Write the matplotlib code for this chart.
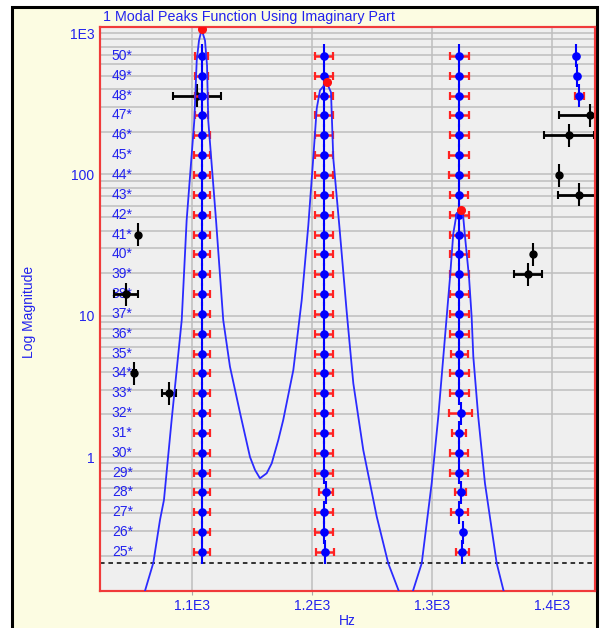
import numpy as np
import matplotlib.pyplot as plt
from matplotlib.patches import Rectangle
from matplotlib.ticker import NullFormatter, LogLocator

plt.rcParams['font.family'] = ['Liberation Sans', 'DejaVu Sans']

# magnitude function (Hz, magnitude)
curve_hz = [1055.0, 1061.1, 1068.0, 1073.6, 1076.9, 1083.3, 1091.7, 1095.8, 1102.2,
            1104.2, 1106.1, 1108.3, 1111.1, 1112.8, 1113.8, 1120.3, 1126.3, 1131.9,
            1140.3, 1148.6, 1152.8, 1156.9, 1162.5, 1166.7, 1172.2, 1176.3, 1184.7,
            1191.7, 1197.2, 1201.3, 1204.2, 1206.9, 1212.5, 1216.1, 1218.0, 1223.0,
            1229.2, 1234.7, 1243.0, 1254.2, 1263.8, 1272.2, 1278.5, 1284.7, 1291.7,
            1300.0, 1305.5, 1309.7, 1312.5, 1315.3, 1318.0, 1320.8, 1324.2, 1326.3,
            1327.8, 1331.1, 1333.3, 1334.7, 1338.8, 1344.4, 1354.2, 1359.7, 1365.0]
curve_mag = [0.09, 0.113, 0.178, 0.359, 0.497, 1.83, 9.30, 47.3, 241,
             639, 885, 1059, 885, 589, 241, 47.3, 9.30, 4.36,
             2.05, 1.00, 0.809, 0.707, 0.767, 0.902, 1.32, 1.83, 4.12,
             12.9, 43.6, 130, 292, 393, 447, 380, 130, 43.6,
             10.6, 3.32, 1.12, 0.379, 0.177, 0.115, 0.08, 0.115, 0.177,
             0.652, 1.93, 5.12, 9.81, 18.8, 38.1, 52.7, 56.3, 49.9,
             36.1, 18.8, 9.81, 5.12, 1.93, 0.652, 0.177, 0.115, 0.08]

# peaks picked on the function
peak_hz = [1108.3, 1212.5, 1324.2]
peak_mag = [1059, 447, 56.3]

threshold = 0.178

# model orders (rows of the stability diagram)
orders = [25, 26, 27, 28, 29, 30, 31, 32, 33, 34, 35, 36, 37,
          38, 39, 40, 41, 42, 43, 44, 45, 46, 47, 48, 49, 50]

# stable poles, orders 25..50 (0 = no frequency error bar)
mode1_hz = [1108.5, 1108.5, 1108.5, 1108.5, 1108.5, 1108.5, 1108.5, 1108.5, 1108.5,
            1108.5, 1108.5, 1108.5, 1108.5, 1108.5, 1108.5, 1108.5, 1108.5, 1108.5,
            1108.5, 1108.5, 1108.5, 1108.5, 1108.2, 1108.2, 1108.2, 1108.2]
mode1_err = [6.4, 6.4, 6.4, 6.4, 6.4, 6.4, 6.4, 6.4, 6.4, 6.4, 6.4, 6.4, 6.4,
             6.4, 6.4, 6.4, 6.4, 6.4, 6.4, 6.4, 6.4, 6.4, 5.6, 5.6, 5.6, 5.6]

mode2_hz = [1211.0, 1210.3, 1210.3, 1211.7, 1210.3, 1210.3, 1210.3, 1210.3, 1210.3,
            1210.3, 1210.3, 1210.3, 1210.3, 1210.3, 1210.3, 1210.3, 1210.3, 1210.3,
            1210.3, 1210.3, 1210.3, 1210.3, 1210.3, 1210.3, 1210.3, 1210.3]
mode2_err = [7.5, 7.8, 7.8, 6.0, 7.8, 7.8, 7.8, 7.8, 7.8, 7.8, 7.8, 7.8, 7.8,
             7.8, 7.8, 7.8, 7.8, 7.8, 7.8, 7.8, 7.8, 7.8, 7.8, 7.8, 7.8, 7.8]

mode3_hz = [1325.5, 1326.5, 1323.0, 1324.2, 1323.0, 1323.0, 1323.0, 1324.2, 1323.0,
            1323.0, 1323.0, 1323.0, 1323.0, 1323.0, 1323.0, 1323.0, 1323.0, 1323.0,
            1323.0, 1323.0, 1323.0, 1323.0, 1323.0, 1323.0, 1323.0, 1323.0]
mode3_err = [5.3, 0, 7.2, 4.7, 7.4, 7.4, 5.8, 9.4, 7.8, 7.8, 7.0, 8.0, 7.8,
             7.8, 7.8, 7.8, 7.8, 7.8, 7.4, 8.3, 8.3, 7.9, 7.9, 7.9, 7.9, 7.9]

mode4_orders = [48, 49, 50]
mode4_hz = [1423.0, 1421.3, 1420.0]
mode4_err = [3.75, 0, 0]

# unstable poles
other_orders = [48, 47, 46, 44, 43, 41, 40, 39, 38, 34, 33]
other_hz = [1104.2, 1431.9, 1414.4, 1406.3, 1422.7, 1055.0, 1384.7, 1380.0, 1045.0, 1052.2, 1081.1]
other_err = [20.0, 25.8, 20.6, 0, 17.5, 0, 0, 11.7, 10.0, 1.5, 6.0]

order_err = 0.58

blue = '#0000FF'
txt_blue = '#2222EE'
red = '#FF2222'

fig = plt.figure(figsize=(6, 6.28), dpi=100, facecolor='white')
fig.patches.append(Rectangle((12 / 600, -0.02), 585 / 600, 1.02 - 7 / 628,
                             transform=fig.transFigure, facecolor='#FCFCE2',
                             edgecolor='black', lw=2.2, zorder=-5))

ax = fig.add_axes([100 / 600, 37 / 628, 495 / 600, 564 / 628])
ax.set_facecolor('#EFEFEF')
ax.set_yscale('log')
ax.set_xlim(1023.6, 1436.1)
ax.set_ylim(0.1127, 1103)
ax.yaxis.set_minor_locator(LogLocator(base=10, subs=range(2, 10), numticks=20))
ax.yaxis.set_minor_formatter(NullFormatter())
ax.set_yticks([1, 10, 100, 1000], ['1', '10', '100', '1E3'])
ax.set_xticks([1100, 1200, 1300, 1400], ['1.1E3', '1.2E3', '1.3E3', '1.4E3'])
ax.grid(True, which='both', axis='y', color='#BEBEBE', lw=1.1)
ax.grid(True, which='major', axis='x', color='#BEBEBE', lw=1.1)
ax.set_axisbelow(True)
ax.tick_params(axis='y', which='both', length=0, pad=4, labelsize=10, labelcolor=txt_blue)
ax.tick_params(axis='x', which='major', length=3, color='#AAAAAA', pad=3,
               labelsize=10, labelcolor=txt_blue)
ax.tick_params(axis='x', which='minor', length=0)
ax.axhline(threshold, color='black', ls=(0, (3, 2.5)), lw=1.1, zorder=1)

# rows of the stability diagram on a linear twin axis
ax2 = ax.twinx()
ax2.set_ylim(23.034, 51.46)
ax2.set_yticks([])
for a in (ax, ax2):
    for s in a.spines.values():
        s.set_color('#F03A3A')
        s.set_linewidth(1.5)

for o in orders:
    ax2.text(0.024, o, '%d*' % o, transform=ax2.get_yaxis_transform(),
             ha='left', va='center', color=txt_blue, fontsize=10, zorder=1)

# unstable poles in black
oh = np.array(other_hz)
oo = np.array(other_orders)
oe = np.array(other_err)
m = oe > 0
ax2.errorbar(oh[m], oo[m], xerr=oe[m], fmt='none', ecolor='black',
             elinewidth=2, capsize=3.2, capthick=1.5, zorder=2)
ax2.errorbar(oh, oo, yerr=order_err, fmt='o', color='black', ms=5,
             elinewidth=1.5, capsize=0, zorder=2)

# stable poles: red frequency bars, blue points
for hz, err, oo in [(mode1_hz, mode1_err, orders), (mode2_hz, mode2_err, orders),
                    (mode3_hz, mode3_err, orders), (mode4_hz, mode4_err, mode4_orders)]:
    hz = np.array(hz)
    err = np.array(err)
    oo = np.array(oo)
    m = err > 0
    ax2.errorbar(hz[m], oo[m], xerr=err[m], fmt='none', ecolor=red,
                 elinewidth=1.8, capsize=3.2, capthick=1.6, zorder=3)
    ax2.errorbar(hz, oo, yerr=order_err, fmt='o', color=blue, ms=5.2,
                 elinewidth=1.5, capsize=0, zorder=4)

# magnitude function and its peaks, drawn with the log axis scale
ax2.plot(curve_hz, curve_mag, color='#2B2BFF', lw=1.3, transform=ax.transData, zorder=5)
ax2.plot(peak_hz, peak_mag, 'o', color='#FF1010', ms=5.5, transform=ax.transData, zorder=6)
ax2.set_xlim(1023.6, 1436.1)
ax2.set_ylim(23.034, 51.46)

fig.text(103 / 600, 1 - 17 / 628, '1 Modal Peaks Function Using Imaginary Part',
         ha='left', va='center', color=txt_blue, fontsize=10.3)
fig.text(29 / 600, 1 - 312 / 628, 'Log Magnitude', rotation=90,
         ha='center', va='center', color=txt_blue, fontsize=10)
fig.text(347 / 600, 1 - 621 / 628, 'Hz', ha='center', va='center',
         color=txt_blue, fontsize=10)

fig.savefig('out.png', dpi=100, facecolor='white')
